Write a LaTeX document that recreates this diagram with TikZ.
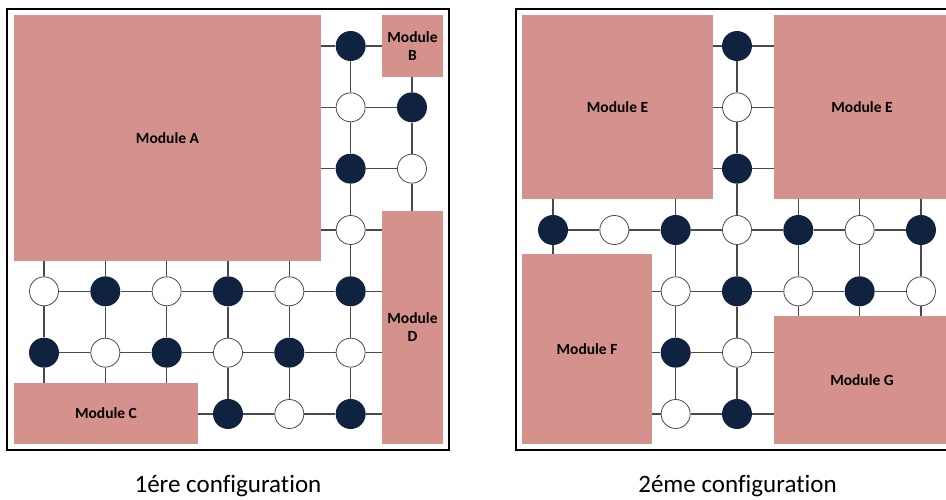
\documentclass[tikz,border=0pt]{standalone}
\usepackage{fontspec}
\setmainfont{Carlito}[Ligatures=NoCommon]
\definecolor{modpink}{HTML}{D5918B}
\definecolor{navy}{HTML}{0F2341}
\definecolor{wirec}{HTML}{4A4A4A}
\begin{document}
\begin{tikzpicture}[x=1pt,y=-1pt,
  dk/.style={circle,fill=navy,minimum size=30pt,inner sep=0pt},
  wt/.style={circle,draw=wirec,fill=white,line width=0.8pt,minimum size=29pt,inner sep=0pt},
  module/.style={rectangle,fill=modpink,inner sep=0pt,font=\bfseries\fontsize{15.5}{18}\selectfont,align=center},
  wire/.style={draw=wirec,line width=1.3pt},
  frame/.style={draw=black,line width=1.2pt},
  caption/.style={font=\fontsize{25}{30}\selectfont,anchor=base}]
\useasboundingbox (0,0) rectangle (946,499);
\fill[white] (0,0) rectangle (946,499);
% frames
\draw[frame] (7,9) rectangle (449,450);
\draw[frame] (516,9) rectangle (958,450);
% ---------- left configuration ----------
\node[module,minimum width=307pt,minimum height=245.5pt] (A) at (167.5,137.75) {Module A};
\node[module,minimum width=61pt,minimum height=62pt] (B) at (412.5,46) {Module\\B};
\node[module,minimum width=61pt,minimum height=233pt] (D) at (412.5,327.5) {Module\\D};
\node[module,minimum width=184pt,minimum height=61pt] (C) at (106,413.5) {Module C};
\foreach \c/\r/\s in {5/0/dk,5/1/wt,6/1/dk,5/2/dk,6/2/wt,5/3/wt,
  0/4/wt,1/4/dk,2/4/wt,3/4/dk,4/4/wt,5/4/dk,
  0/5/dk,1/5/wt,2/5/dk,3/5/wt,4/5/dk,5/5/wt,
  3/6/dk,4/6/wt,5/6/dk}
  \node[\s] (L\c\r) at ({44+61.33*\c},{46+61.33*\r}) {};
% horizontal wires
\draw[wire] (L50 -| A.east) -- (L50) -- (L50 -| B.west);
\draw[wire] (L51 -| A.east) -- (L51) -- (L61);
\draw[wire] (L52 -| A.east) -- (L52) -- (L62);
\draw[wire] (L53 -| A.east) -- (L53) -- (L53 -| D.west);
\draw[wire] (L04) -- (L14) -- (L24) -- (L34) -- (L44) -- (L54) -- (L54 -| D.west);
\draw[wire] (L05) -- (L15) -- (L25) -- (L35) -- (L45) -- (L55) -- (L55 -| D.west);
\draw[wire] (L36 -| C.east) -- (L36) -- (L46) -- (L56) -- (L56 -| D.west);
% vertical wires
\draw[wire] (L04 |- A.south) -- (L04) -- (L05) -- (L05 |- C.north);
\draw[wire] (L14 |- A.south) -- (L14) -- (L15) -- (L15 |- C.north);
\draw[wire] (L24 |- A.south) -- (L24) -- (L25) -- (L25 |- C.north);
\draw[wire] (L34 |- A.south) -- (L34) -- (L35) -- (L36);
\draw[wire] (L44 |- A.south) -- (L44) -- (L45) -- (L46);
\draw[wire] (L50) -- (L51) -- (L52) -- (L53) -- (L54) -- (L55) -- (L56);
\draw[wire] (L61 |- B.south) -- (L61) -- (L62) -- (L62 |- D.north);
% ---------- right configuration ----------
\node[module,minimum width=191pt,minimum height=184pt] (E1) at (617.5,107) {Module E};
\node[module,minimum width=176pt,minimum height=184pt] (E2) at (862,107) {Module E};
\node[module,minimum width=130pt,minimum height=190pt] (F) at (587,349) {Module F};
\node[module,minimum width=176pt,minimum height=128pt] (G) at (862,380) {Module G};
\foreach \c/\r/\s in {3/0/dk,3/1/wt,3/2/dk,
  0/3/dk,1/3/wt,2/3/dk,3/3/wt,4/3/dk,5/3/wt,6/3/dk,
  2/4/wt,3/4/dk,4/4/wt,5/4/dk,6/4/wt,
  2/5/dk,3/5/wt,2/6/wt,3/6/dk}
  \node[\s] (R\c\r) at ({553+61.33*\c},{46+61.33*\r}) {};
% horizontal wires
\draw[wire] (R30 -| E1.east) -- (R30) -- (R30 -| E2.west);
\draw[wire] (R31 -| E1.east) -- (R31) -- (R31 -| E2.west);
\draw[wire] (R32 -| E1.east) -- (R32) -- (R32 -| E2.west);
\draw[wire] (R03) -- (R13) -- (R23) -- (R33) -- (R43) -- (R53) -- (R63);
\draw[wire] (R24 -| F.east) -- (R24) -- (R34) -- (R44) -- (R54) -- (R64);
\draw[wire] (R25 -| F.east) -- (R25) -- (R35) -- (R35 -| G.west);
\draw[wire] (R26 -| F.east) -- (R26) -- (R36) -- (R36 -| G.west);
% vertical wires
\draw[wire] (R03 |- E1.south) -- (R03) -- (R03 |- F.north);
\draw[wire] (R23 |- E1.south) -- (R23) -- (R24) -- (R25) -- (R26);
\draw[wire] (R30) -- (R31) -- (R32) -- (R33) -- (R34) -- (R35) -- (R36);
\draw[wire] (R43 |- E2.south) -- (R43) -- (R44) -- (R44 |- G.north);
\draw[wire] (R53 |- E2.south) -- (R53) -- (R54) -- (R54 |- G.north);
\draw[wire] (R63 |- E2.south) -- (R63) -- (R64) -- (R64 |- G.north);
% captions
\node[caption] (cap1) at (228,492) {1ére configuration};
\node[caption] (cap2) at (737.5,492) {2éme configuration};
\end{tikzpicture}
\end{document}
